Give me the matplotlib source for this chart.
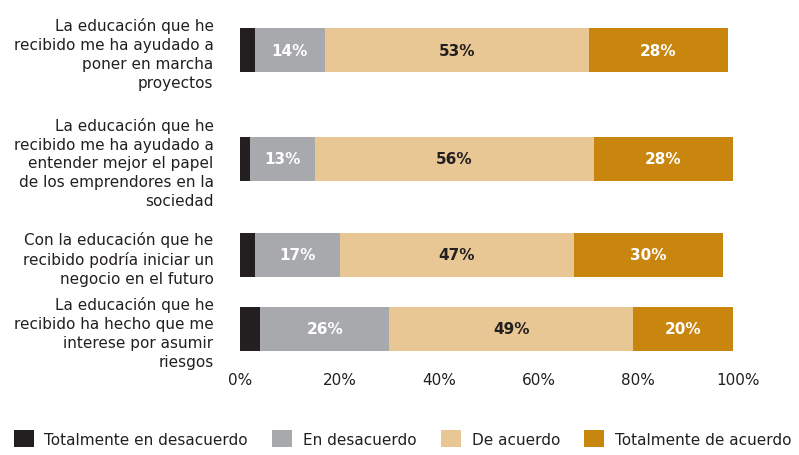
import numpy as np
import matplotlib.pyplot as plt
from matplotlib.patches import Patch

categories = [
    "La educación que he\nrecibido me ha ayudado a\nponer en marcha\nproyectos",
    "La educación que he\nrecibido me ha ayudado a\nentender mejor el papel\nde los emprendores en la\nsociedad",
    "Con la educación que he\nrecibido podría iniciar un\nnegocio en el futuro",
    "La educación que he\nrecibido ha hecho que me\ninterese por asumir\nriesgos",
]
series = ["Totalmente en desacuerdo", "En desacuerdo", "De acuerdo", "Totalmente de acuerdo"]
tot_desacuerdo = [3, 2, 3, 4]
desacuerdo = [14, 13, 17, 26]
de_acuerdo = [53, 56, 47, 49]
tot_acuerdo = [28, 28, 30, 20]
xticks = [0, 20, 40, 60, 80, 100]

colors = ["#231f20", "#a7a9ac", "#e8c794", "#c8860e"]
txt_colors = [None, "white", "#231f20", "white"]
ypos = [0, 1.172, 2.204, 3.0]
h = 0.473

plt.rcParams['font.family'] = ['DejaVu Sans']
fig = plt.figure(figsize=(7.99, 4.56), dpi=100)
ax = fig.add_axes([240/799, 1-365/456, 498/799, 345/456])

left = np.zeros(4)
for vals, c, tc in zip([tot_desacuerdo, desacuerdo, de_acuerdo, tot_acuerdo], colors, txt_colors):
    vals = np.array(vals, dtype=float)
    ax.barh(ypos, vals, left=left, height=h, color=c, linewidth=0)
    if tc:
        for y, l, v in zip(ypos, left, vals):
            ax.text(l + v/2, y, f"{int(v)}%", ha='center', va='center',
                    color=tc, fontsize=11, fontweight='bold')
    left += vals

ax.set_xlim(0, 100)
ax.set_ylim(3 + 35/93, -31/93)
ax.set_yticks(ypos)
ax.set_yticklabels(categories, fontsize=11, color="#231f20", multialignment='right', linespacing=1.32)
ax.set_xticks(xticks)
ax.set_xticklabels([f"{t}%" for t in xticks], fontsize=11, color="#231f20")
ax.tick_params(axis='y', length=0, pad=19)
ax.tick_params(axis='x', length=0, pad=6)
for s in ax.spines.values():
    s.set_visible(False)

handles = [Patch(facecolor=c, edgecolor='none') for c in colors]
fig.legend(handles, series, loc='lower left', bbox_to_anchor=(0.0, -0.012), ncol=4,
           frameon=False, fontsize=11, handlelength=1.3, handleheight=1.3,
           handletextpad=0.7, columnspacing=1.6, labelcolor="#231f20")

fig.savefig("out.png", dpi=100)
